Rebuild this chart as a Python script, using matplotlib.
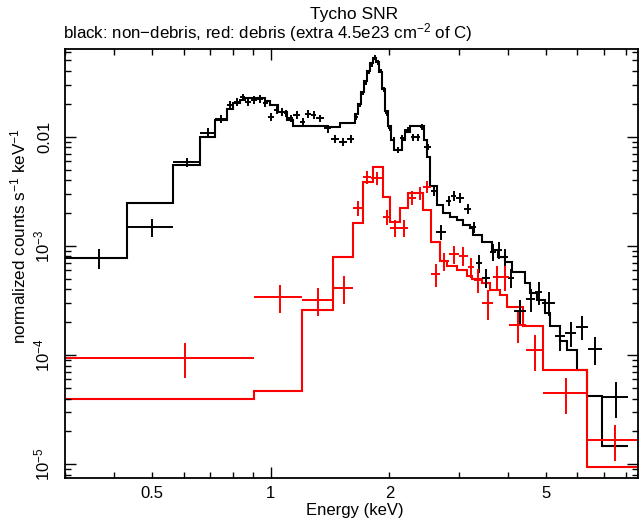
import matplotlib
matplotlib.use("Agg")
import matplotlib.pyplot as plt
from matplotlib.ticker import NullFormatter

plt.rcParams['font.family'] = ['Liberation Sans', 'DejaVu Sans']
plt.rcParams['mathtext.fontset'] = 'custom'
plt.rcParams['mathtext.rm'] = 'Liberation Sans'
plt.rcParams['mathtext.it'] = 'Liberation Sans:italic'
plt.rcParams['mathtext.bf'] = 'Liberation Sans:bold'

# ---------------- black (non-debris) data ----------------
black_elo = [0.300, 0.432, 0.565, 0.662, 0.723, 0.772, 0.805, 0.834, 0.862, 0.892,
             0.920, 0.953, 0.985, 1.020, 1.050, 1.082, 1.107, 1.140, 1.188, 1.223,
             1.266, 1.304, 1.367, 1.424, 1.492, 1.563, 1.628, 1.667, 1.697, 1.726,
             1.757, 1.788, 1.819, 1.851, 1.884, 1.917, 1.951, 1.986, 2.033, 2.069,
             2.130, 2.181, 2.272, 2.325, 2.394, 2.451, 2.553, 2.629, 2.790, 2.870,
             2.955, 3.097, 3.225, 3.321, 3.440, 3.600, 3.720, 3.860, 4.000, 4.150,
             4.450, 4.690, 4.880, 5.270, 5.600, 5.950, 6.400, 6.940]
black_ehi = [0.432, 0.565, 0.662, 0.723, 0.772, 0.805, 0.834, 0.862, 0.892, 0.920,
             0.953, 0.985, 1.020, 1.050, 1.082, 1.107, 1.140, 1.188, 1.223, 1.266,
             1.304, 1.367, 1.424, 1.492, 1.563, 1.628, 1.667, 1.697, 1.726, 1.757,
             1.788, 1.819, 1.851, 1.884, 1.917, 1.951, 1.986, 2.033, 2.069, 2.130,
             2.181, 2.272, 2.325, 2.394, 2.451, 2.553, 2.629, 2.790, 2.870, 2.955,
             3.097, 3.225, 3.321, 3.440, 3.600, 3.720, 3.860, 4.000, 4.150, 4.450,
             4.690, 4.880, 5.270, 5.600, 5.950, 6.400, 6.940, 8.070]
black_y = [7.77e-4, 1.48e-3, 5.83e-3, 0.0109, 0.0145, 0.0195, 0.0209, 0.0229, 0.0209, 0.0217,
           0.0220, 0.0202, 0.0152, 0.0176, 0.0169, 0.0164, 0.0147, 0.0158, 0.0137, 0.0161,
           0.0158, 0.0147, 0.0119, 0.0095, 0.0090, 0.0095, 0.0151, 0.0195, 0.0250, 0.0310,
           0.0390, 0.0460, 0.0530, 0.0480, 0.0400, 0.0270, 0.0165, 0.0120, 0.0093, 0.0076,
           0.0097, 0.0115, 0.0099, 0.0099, 0.0123, 0.0081, 0.0032, 0.00134, 0.00258, 0.00287,
           0.00275, 0.00218, 0.00149, 7.0e-4, 5.1e-4, 8.8e-4, 9.2e-4, 7.9e-4, 5.1e-4, 2.54e-4,
           3.27e-4, 3.79e-4, 3.01e-4, 1.50e-4, 1.60e-4, 1.82e-4, 1.14e-4, 4.15e-5]
black_yerr = [1.6e-4, 2.8e-4, 6.0e-4, 1.0e-3, 1.2e-3, 1.6e-3, 1.7e-3, 1.8e-3, 1.7e-3, 1.7e-3,
              1.8e-3, 1.6e-3, 1.3e-3, 1.4e-3, 1.4e-3, 1.3e-3, 1.2e-3, 1.3e-3, 1.1e-3, 1.3e-3,
              1.3e-3, 1.2e-3, 1.0e-3, 8.0e-4, 8.0e-4, 8.0e-4, 8.0e-4, 1.0e-3, 1.2e-3, 1.4e-3,
              1.7e-3, 2.2e-3, 2.6e-3, 2.4e-3, 2.0e-3, 1.4e-3, 9.0e-4, 7.0e-4, 6.0e-4, 5.0e-4,
              6.0e-4, 7.0e-4, 7.0e-4, 7.0e-4, 8.0e-4, 5.0e-4, 3.5e-4, 2.2e-4, 2.8e-4, 3.0e-4,
              2.8e-4, 2.4e-4, 1.8e-4, 1.3e-4, 1.0e-4, 1.6e-4, 1.6e-4, 1.4e-4, 1.0e-4, 6.5e-5,
              8.0e-5, 9.0e-5, 7.5e-5, 4.0e-5, 4.2e-5, 4.5e-5, 3.2e-5, 1.5e-5]

# ---------------- black model (histogram) ----------------
black_model_edges = [0.300, 0.432, 0.565, 0.662, 0.723, 0.775, 0.803, 0.836, 0.861, 0.968,
                     0.997, 1.041, 1.101, 1.138, 1.390, 1.500, 1.637, 1.667, 1.697, 1.726,
                     1.757, 1.788, 1.819, 1.851, 1.884, 1.917, 1.951, 1.986, 2.021, 2.057,
                     2.155, 2.193, 2.258, 2.451, 2.494, 2.538, 2.645, 2.739, 2.853, 2.972,
                     3.078, 3.207, 3.263, 3.440, 3.647, 3.777, 3.935, 4.099, 4.423, 4.555,
                     4.745, 4.971, 5.120, 5.430, 5.650, 6.000, 6.360, 6.940, 8.070]
black_model = [7.77e-4, 2.49e-3, 5.51e-3, 0.0100, 0.0142, 0.0178, 0.0202, 0.0217, 0.0228, 0.0214,
               0.0195, 0.0169, 0.0142, 0.0126, 0.0123, 0.0133, 0.0160, 0.0200, 0.0255, 0.0320,
               0.0400, 0.0470, 0.0530, 0.0480, 0.0390, 0.0270, 0.0170, 0.0125, 0.0093, 0.00755,
               0.00933, 0.0111, 0.0125, 0.00933, 0.00652, 0.00354, 0.00237, 0.00199, 0.00185, 0.00173,
               0.00156, 0.00145, 0.00126, 0.00109, 9.19e-4, 7.98e-4, 7.18e-4, 5.82e-4, 4.56e-4, 3.69e-4,
               3.21e-4, 2.42e-4, 1.83e-4, 1.36e-4, 1.12e-4, 7.33e-5, 4.18e-5, 1.46e-5]

# ---------------- red (debris) data ----------------
red_elo = [0.300, 0.908, 1.201, 1.440, 1.619, 1.716, 1.800, 1.930, 2.010, 2.130,
           2.230, 2.340, 2.440, 2.550, 2.690, 2.830, 3.000, 3.160, 3.280, 3.440,
           3.660, 3.860, 4.020, 4.450, 4.900, 6.360]
red_ehi = [0.908, 1.201, 1.440, 1.619, 1.716, 1.800, 1.930, 2.010, 2.130, 2.230,
           2.340, 2.440, 2.550, 2.690, 2.830, 3.000, 3.160, 3.280, 3.440, 3.660,
           3.860, 4.020, 4.450, 4.900, 6.360, 8.610]
red_y = [9.5e-5, 3.39e-4, 3.2e-4, 4.13e-4, 2.23e-3, 4.28e-3, 4.19e-3, 1.84e-3, 1.46e-3, 1.46e-3,
         2.75e-3, 3.05e-3, 3.47e-3, 5.54e-4, 7.29e-4, 8.45e-4, 8.10e-4, 6.43e-4, 4.89e-4, 3.01e-4,
         5.20e-4, 5.20e-4, 1.89e-4, 1.12e-4, 4.52e-5, 1.68e-5]
red_yerr = [3.3e-5, 9.5e-5, 9.0e-5, 1.2e-4, 3.7e-4, 6.0e-4, 6.0e-4, 3.0e-4, 2.5e-4, 2.5e-4,
            4.0e-4, 4.0e-4, 4.5e-4, 1.3e-4, 1.4e-4, 1.6e-4, 1.6e-4, 1.3e-4, 1.2e-4, 9.0e-5,
            1.3e-4, 1.3e-4, 6.0e-5, 4.0e-5, 1.6e-5, 6.0e-6]

# ---------------- red model (histogram) ----------------
red_model_edges = [0.300, 0.908, 1.201, 1.440, 1.619, 1.716, 1.819, 1.929, 2.009, 2.130,
                   2.232, 2.437, 2.553, 2.691, 2.804, 2.972, 3.151, 3.244, 3.440, 3.605,
                   3.822, 3.981, 4.371, 4.913, 6.360, 8.610]
red_model = [3.98e-5, 4.65e-5, 2.60e-4, 7.98e-4, 1.61e-3, 3.88e-3, 5.28e-3, 2.78e-3, 1.64e-3, 2.23e-3,
             3.05e-3, 2.13e-3, 1.09e-3, 7.29e-4, 6.56e-4, 6.03e-4, 5.32e-4, 4.94e-4, 4.59e-4, 3.96e-4,
             3.56e-4, 2.77e-4, 1.85e-4, 7.33e-5, 9.5e-6]

# ---------------- axes / labels ----------------
x_major_ticks = [1.0]
x_major_labels = ['1']
x_minor_ticks = [0.3, 0.4, 0.5, 0.6, 0.7, 0.8, 0.9, 2, 3, 4, 5, 6, 7, 8]
x_minor_labels = ['', '', '0.5', '', '', '', '', '2', '', '', '5', '', '', '']
y_major_ticks = [1e-5, 1e-4, 1e-3, 1e-2]
y_major_labels = [r'$10^{-5}$', r'$10^{-4}$', r'$10^{-3}$', '0.01']
y_minor_ticks = [m * 10.0 ** e for e in (-6, -5, -4, -3, -2) for m in range(2, 10)]

title = 'Tycho SNR'
subtitle = 'black: non\u2212debris, red: debris (extra 4.5e23 cm$^{-2}$ of C)'
xlabel = 'Energy (keV)'
ylabel = 'normalized counts s$^{-1}$ keV$^{-1}$'

W, H = 639, 523
fig = plt.figure(figsize=(W / 100, H / 100), dpi=100)
ax = fig.add_axes([65 / W, 45 / H, 573 / W, 429 / H])


def draw_set(elo, ehi, y, yerr, medges, mvals, color):
    cen = [(a + b) / 2 for a, b in zip(elo, ehi)]
    xl = [c - a for c, a in zip(cen, elo)]
    xh = [b - c for c, b in zip(cen, ehi)]
    ax.errorbar(cen, y, xerr=[xl, xh], yerr=yerr, fmt='none', ecolor=color,
                elinewidth=1.4, capsize=0)
    ax.stairs(mvals, medges, color=color, lw=1.5, baseline=None)


draw_set(black_elo, black_ehi, black_y, black_yerr, black_model_edges, black_model, 'black')
draw_set(red_elo, red_ehi, red_y, red_yerr, red_model_edges, red_model, '#ff0000')

ax.set_xscale('log')
ax.set_yscale('log')

ax.set_xticks(x_major_ticks, x_major_labels)
ax.set_xticks(x_minor_ticks, x_minor_labels, minor=True)
ax.set_yticks(y_major_ticks, y_major_labels, rotation=90, va='center')
ax.set_yticks(y_minor_ticks, minor=True)
ax.yaxis.set_minor_formatter(NullFormatter())
ax.set_ylim(7.5e-6, 0.0634)
ax.set_xlim(0.3, 8.56)

ax.tick_params(which='both', direction='in', top=True, right=True, width=1.0,
               labelsize=12, colors='black')
ax.tick_params(which='major', length=8)
ax.tick_params(which='minor', length=4)
ax.tick_params(axis='x', which='both', pad=6)
ax.tick_params(axis='y', which='both', pad=9)
for s in ax.spines.values():
    s.set_linewidth(1.3)

fig.text(354 / W, 1 - 15 / H, title, ha='center', va='center', fontsize=12.5)
fig.text(63 / W, 1 - 33 / H, subtitle, ha='left', va='center', fontsize=12.2)
fig.text(355 / W, 1 - 510 / H, xlabel, ha='center', va='center', fontsize=12)
fig.text(18 / W, 1 - 236 / H, ylabel, ha='center', va='center', rotation=90, fontsize=12.3)

fig.savefig('out.png', dpi=100)
